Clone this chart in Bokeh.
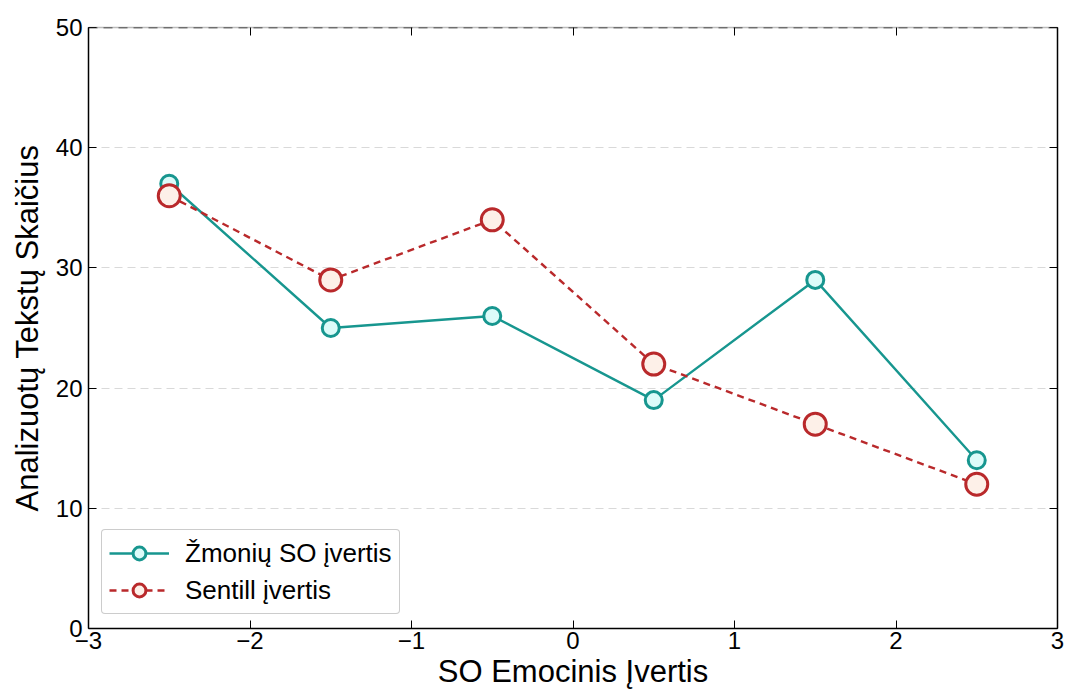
from bokeh.plotting import figure
from bokeh.models import Range1d, LinearAxis, FixedTicker, Legend, LegendItem, Span
from bokeh.embed import file_html
from bokeh.resources import INLINE

x_vals = [-2.5, -1.5, -0.5, 0.5, 1.5, 2.5]
human = [37, 25, 26, 19, 29, 14]
sentill = [36, 29, 34, 22, 17, 12]
x_ticks = [-3, -2, -1, 0, 1, 2, 3]
y_ticks = [0, 10, 20, 30, 40, 50]
x_label = "SO Emocinis Įvertis"
y_label = "Analizuotų Tekstų Skaičius"
name_h = "Žmonių SO įvertis"
name_s = "Sentill įvertis"

FONT = "Liberation Sans"
TEAL = "#17968f"
RED = "#b9292b"

p = figure(width=1065, height=692, output_backend="svg", toolbar_location=None,
           x_range=Range1d(-3, 3), y_range=Range1d(0, 50),
           min_border_left=88, min_border_right=8, min_border_top=27, min_border_bottom=64)
p.outline_line_color = None
p.background_fill_color = "white"
p.border_fill_color = "white"

p.xgrid.visible = False
p.ygrid.ticker = FixedTicker(ticks=y_ticks)
p.ygrid.grid_line_color = "#d9d9d9"
p.ygrid.grid_line_dash = "8 5"
p.ygrid.grid_line_width = 1

def style_axis(ax, labels=True):
    ax.axis_line_color = "black"
    ax.axis_line_width = 1.5
    ax.major_tick_in = 8
    ax.major_tick_out = 0
    ax.major_tick_line_color = "black"
    ax.minor_tick_line_color = None
    ax.major_label_text_font = FONT
    ax.major_label_text_font_size = "24px"
    ax.major_label_text_color = "black"
    ax.axis_label_text_font = FONT
    ax.axis_label_text_font_size = "31px"
    ax.axis_label_text_font_style = "normal"
    ax.axis_label_text_color = "black"
    if not labels:
        ax.major_label_text_font_size = "0px"
        ax.major_label_text_color = None

p.xaxis.ticker = FixedTicker(ticks=x_ticks)
p.yaxis.ticker = FixedTicker(ticks=y_ticks)
p.xaxis.major_label_overrides = {t: ("\u2212" + str(-t) if t < 0 else str(t)) for t in x_ticks}
style_axis(p.xaxis[0])
style_axis(p.yaxis[0])
p.xaxis.axis_label = x_label
p.yaxis.axis_label = y_label
p.xaxis.major_label_standoff = 3
p.yaxis.major_label_standoff = 6
p.xaxis.axis_label_standoff = 2
p.yaxis.axis_label_standoff = 8

top = LinearAxis(ticker=FixedTicker(ticks=x_ticks))
style_axis(top, labels=False)
top.axis_line_color = "#bbbbbb"
right = LinearAxis(ticker=FixedTicker(ticks=y_ticks))
style_axis(right, labels=False)
p.add_layout(top, "above")
p.add_layout(right, "right")
p.add_layout(Span(location=50, dimension="width", line_color="#222222",
                  line_dash="9 6", line_width=1.5))

lh = p.line(x_vals, human, line_color=TEAL, line_width=2.4)
sh = p.scatter(x_vals, human, size=17, marker="circle", line_color=TEAL,
               line_width=3, fill_color="#dcfbf9")
ls = p.line(x_vals, sentill, line_color=RED, line_width=2.4, line_dash="7 5")
ss = p.scatter(x_vals, sentill, size=22, marker="circle", line_color=RED,
               line_width=3, fill_color="#fdf0e8")

legend = Legend(items=[LegendItem(label=name_h, renderers=[lh, sh]),
                       LegendItem(label=name_s, renderers=[ls, ss])],
                location=(13, 14))
legend.label_text_font = FONT
legend.label_text_font_size = "26px"
legend.label_text_color = "black"
legend.glyph_width = 60
legend.glyph_height = 32
legend.label_standoff = 16
legend.spacing = 5
legend.padding = 7
legend.margin = 0
legend.border_line_color = "#999999"
legend.border_line_width = 1.2
legend.border_radius = 4
legend.background_fill_color = "white"
legend.background_fill_alpha = 1
p.add_layout(legend, "center")

open("out.html", "w").write(file_html(p, INLINE))
